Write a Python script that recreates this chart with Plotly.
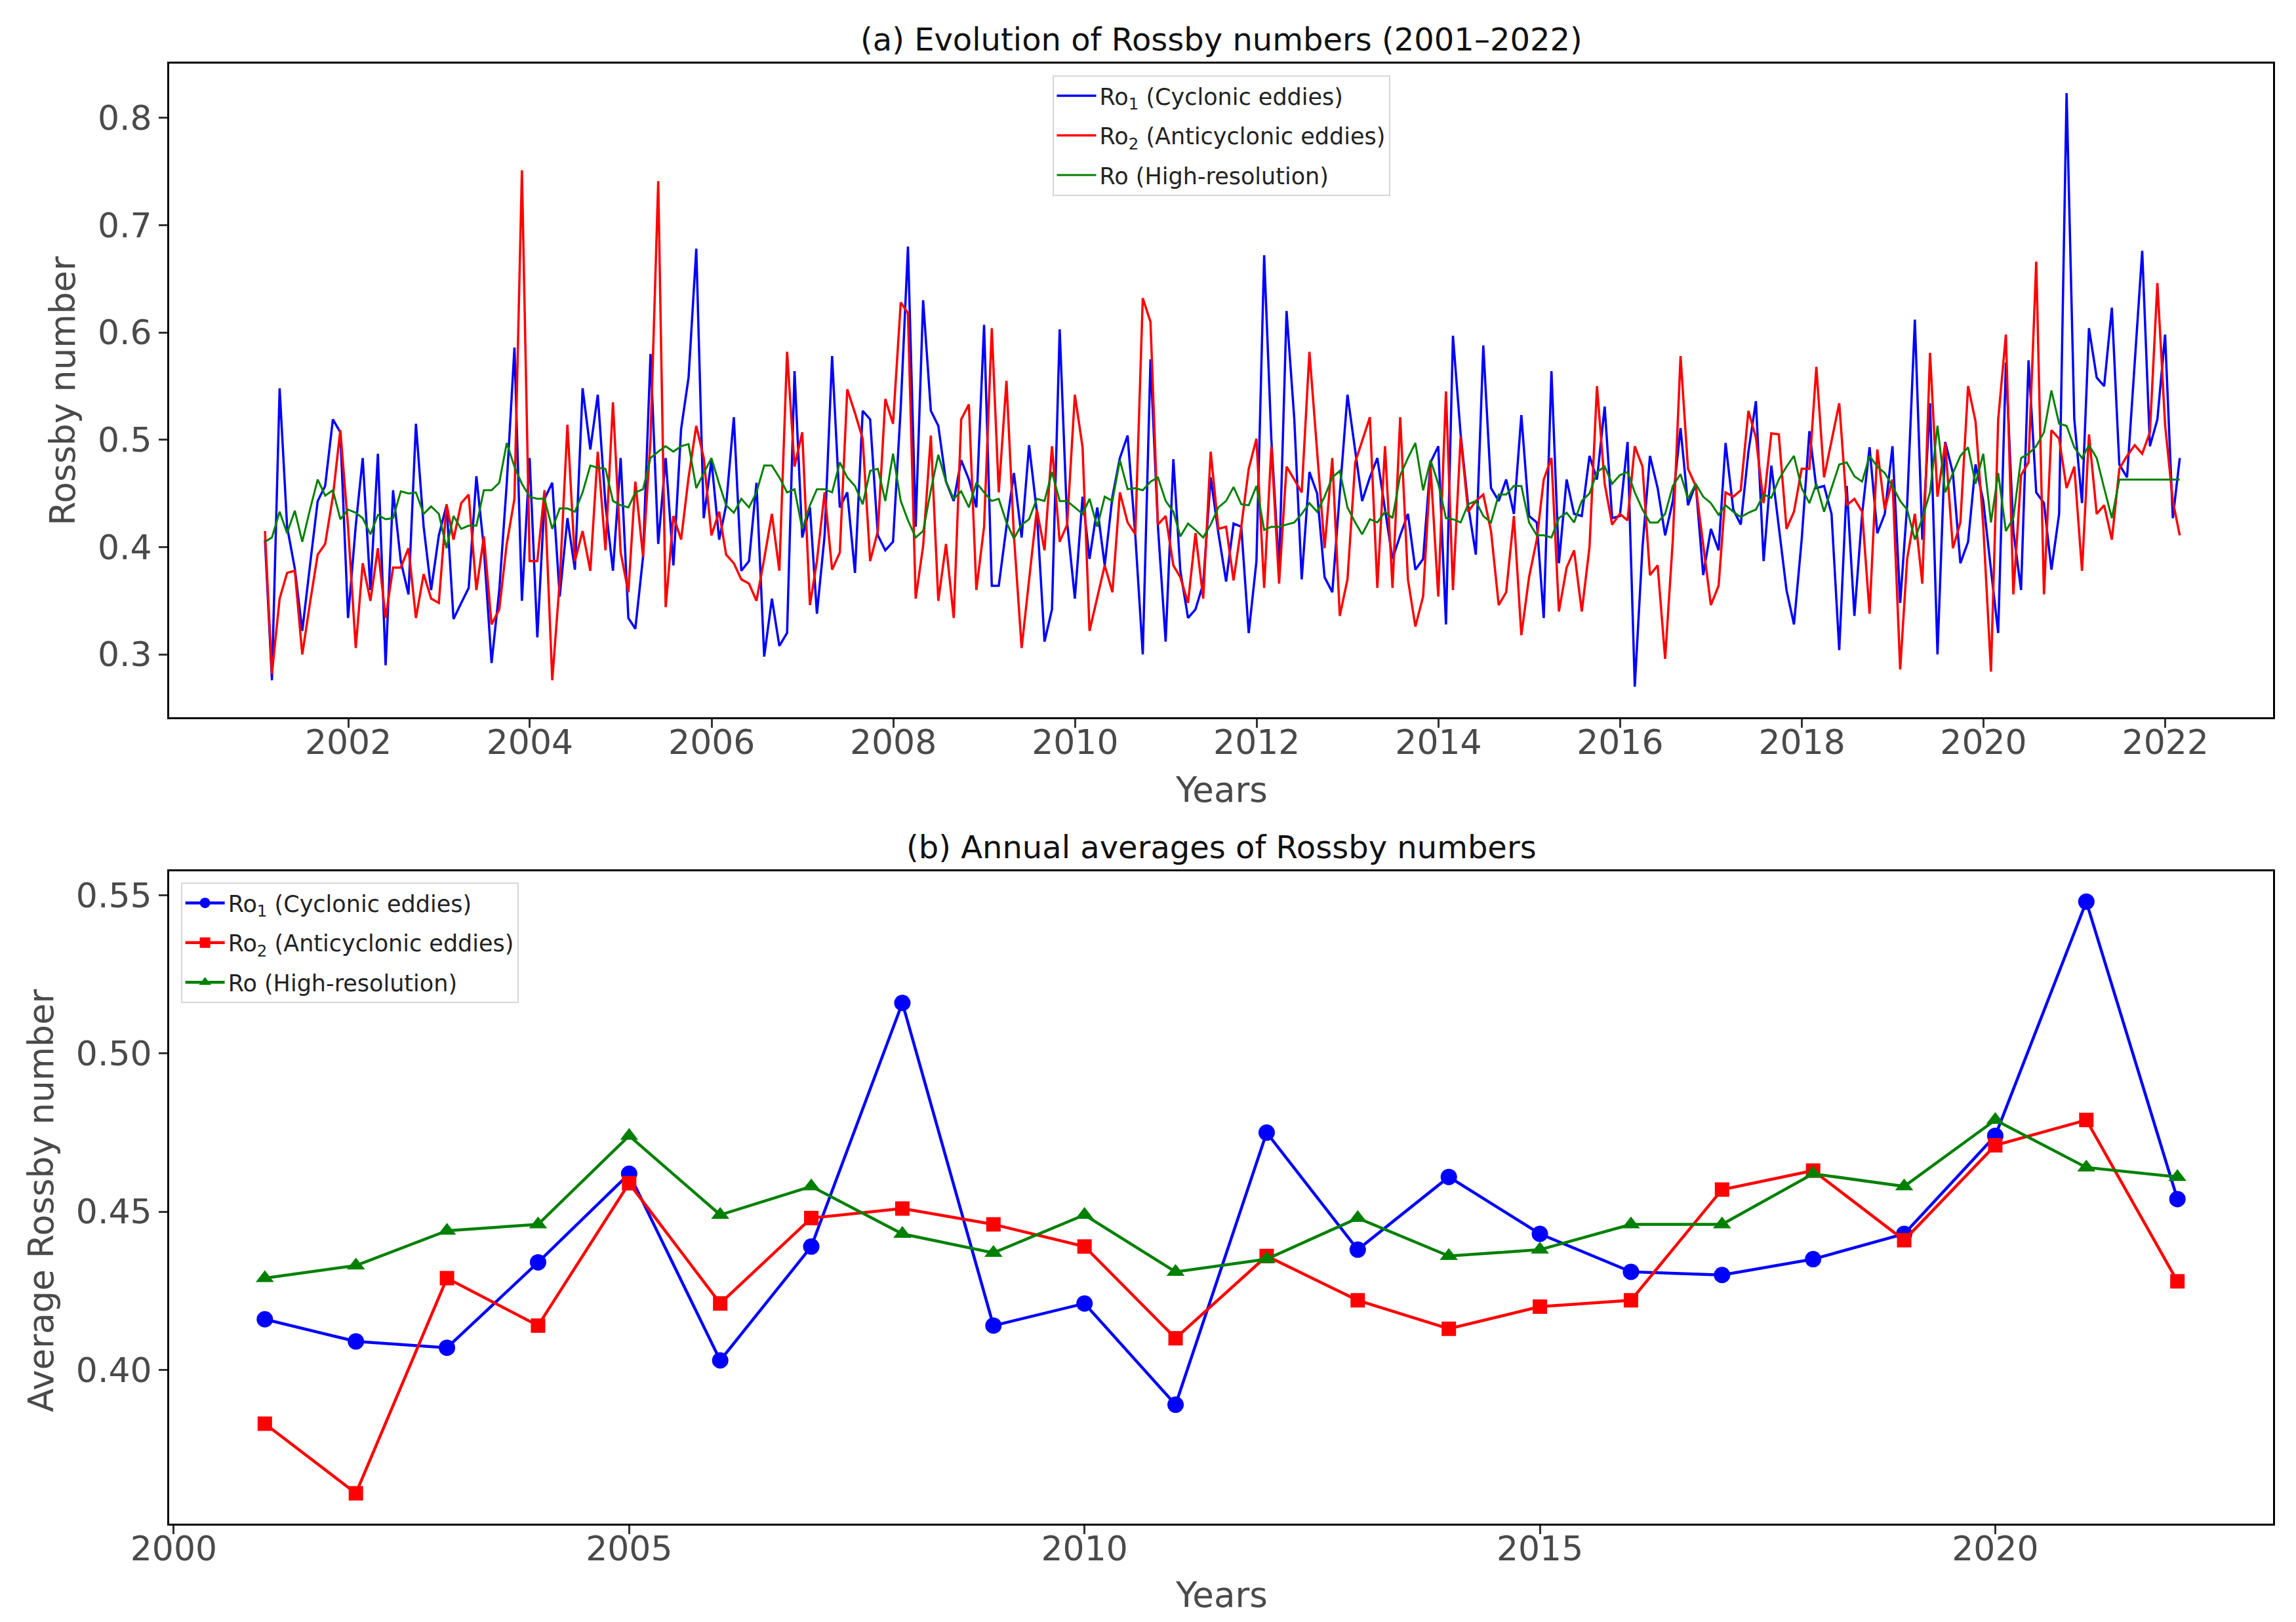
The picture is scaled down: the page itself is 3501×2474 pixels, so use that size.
import calendar
import plotly.graph_objects as go

# ---------------- data ----------------
# Monthly values, Jan 2001 .. Feb 2022 (one row per year)
ro1_monthly = [
    0.407, 0.276, 0.548, 0.419, 0.380, 0.322, 0.383, 0.443, 0.457, 0.519, 0.507, 0.334,  # 2001
    0.420, 0.483, 0.360, 0.487, 0.290, 0.453, 0.387, 0.356, 0.515, 0.419, 0.360, 0.411,  # 2002
    0.439, 0.333, 0.348, 0.362, 0.466, 0.399, 0.292, 0.360, 0.459, 0.586, 0.350, 0.483,  # 2003
    0.316, 0.445, 0.460, 0.354, 0.427, 0.379, 0.548, 0.491, 0.542, 0.439, 0.378, 0.483,  # 2004
    0.334, 0.324, 0.391, 0.580, 0.403, 0.483, 0.383, 0.510, 0.558, 0.678, 0.427, 0.481,  # 2005
    0.407, 0.439, 0.521, 0.378, 0.387, 0.460, 0.298, 0.352, 0.308, 0.320, 0.564, 0.409,  # 2006
    0.437, 0.338, 0.411, 0.578, 0.437, 0.451, 0.376, 0.527, 0.519, 0.411, 0.397, 0.405,  # 2007
    0.530, 0.680, 0.419, 0.630, 0.527, 0.513, 0.461, 0.443, 0.481, 0.463, 0.437, 0.607,  # 2008
    0.364, 0.364, 0.419, 0.469, 0.409, 0.495, 0.433, 0.312, 0.342, 0.603, 0.423, 0.352,  # 2009
    0.447, 0.389, 0.437, 0.383, 0.447, 0.483, 0.504, 0.411, 0.300, 0.575, 0.419, 0.312,  # 2010
    0.482, 0.378, 0.334, 0.342, 0.366, 0.465, 0.413, 0.368, 0.422, 0.419, 0.320, 0.387,  # 2011
    0.672, 0.500, 0.379, 0.620, 0.520, 0.370, 0.470, 0.450, 0.372, 0.358, 0.450, 0.542,  # 2012
    0.490, 0.443, 0.465, 0.483, 0.435, 0.389, 0.411, 0.431, 0.379, 0.389, 0.479, 0.494,  # 2013
    0.328, 0.597, 0.505, 0.439, 0.393, 0.588, 0.455, 0.443, 0.463, 0.431, 0.523, 0.429,  # 2014
    0.423, 0.334, 0.564, 0.385, 0.463, 0.431, 0.429, 0.485, 0.463, 0.531, 0.427, 0.429,  # 2015
    0.498, 0.270, 0.400, 0.485, 0.455, 0.411, 0.443, 0.511, 0.439, 0.459, 0.374, 0.417,  # 2016
    0.397, 0.497, 0.435, 0.421, 0.489, 0.536, 0.387, 0.476, 0.419, 0.360, 0.328, 0.407,  # 2017
    0.508, 0.455, 0.457, 0.431, 0.304, 0.457, 0.336, 0.431, 0.493, 0.413, 0.431, 0.494,  # 2018
    0.348, 0.439, 0.612, 0.407, 0.534, 0.300, 0.498, 0.469, 0.385, 0.405, 0.477, 0.443,  # 2019
    0.379, 0.320, 0.572, 0.415, 0.360, 0.574, 0.451, 0.441, 0.379, 0.431, 0.823, 0.519,  # 2020
    0.441, 0.604, 0.558, 0.550, 0.623, 0.477, 0.465, 0.570, 0.676, 0.494, 0.519, 0.598,  # 2021
    0.427, 0.483,                                                                        # 2022
]

ro2_monthly = [
    0.415, 0.282, 0.352, 0.376, 0.378, 0.300, 0.348, 0.393, 0.403, 0.447, 0.509, 0.419,  # 2001
    0.306, 0.385, 0.350, 0.399, 0.334, 0.381, 0.381, 0.399, 0.334, 0.375, 0.352, 0.348,  # 2002
    0.440, 0.407, 0.441, 0.449, 0.360, 0.410, 0.328, 0.342, 0.403, 0.445, 0.751, 0.387,  # 2003
    0.387, 0.453, 0.276, 0.368, 0.514, 0.387, 0.415, 0.378, 0.489, 0.397, 0.535, 0.395,  # 2004
    0.358, 0.461, 0.391, 0.500, 0.741, 0.344, 0.429, 0.407, 0.465, 0.513, 0.483, 0.411,  # 2005
    0.433, 0.393, 0.385, 0.370, 0.366, 0.350, 0.389, 0.431, 0.378, 0.582, 0.475, 0.507,  # 2006
    0.346, 0.387, 0.451, 0.379, 0.395, 0.547, 0.525, 0.501, 0.387, 0.415, 0.538, 0.515,  # 2007
    0.628, 0.618, 0.352, 0.401, 0.504, 0.350, 0.403, 0.334, 0.519, 0.533, 0.360, 0.419,  # 2008
    0.604, 0.451, 0.555, 0.411, 0.306, 0.370, 0.435, 0.397, 0.494, 0.405, 0.421, 0.542,  # 2009
    0.493, 0.322, 0.352, 0.383, 0.358, 0.451, 0.423, 0.412, 0.632, 0.610, 0.421, 0.429,  # 2010
    0.383, 0.372, 0.348, 0.413, 0.352, 0.489, 0.417, 0.419, 0.369, 0.419, 0.473, 0.501,  # 2011
    0.362, 0.494, 0.366, 0.475, 0.463, 0.451, 0.582, 0.490, 0.399, 0.483, 0.336, 0.370,  # 2012
    0.479, 0.499, 0.521, 0.362, 0.494, 0.362, 0.521, 0.370, 0.326, 0.354, 0.475, 0.354,  # 2013
    0.545, 0.360, 0.503, 0.433, 0.443, 0.449, 0.415, 0.346, 0.358, 0.429, 0.318, 0.372,  # 2014
    0.407, 0.463, 0.483, 0.340, 0.381, 0.397, 0.340, 0.400, 0.550, 0.459, 0.421, 0.431,  # 2015
    0.425, 0.494, 0.475, 0.374, 0.383, 0.296, 0.407, 0.578, 0.473, 0.457, 0.403, 0.346,  # 2016
    0.364, 0.451, 0.447, 0.453, 0.527, 0.502, 0.441, 0.506, 0.505, 0.417, 0.433, 0.473,  # 2017
    0.473, 0.568, 0.465, 0.498, 0.534, 0.439, 0.445, 0.433, 0.338, 0.491, 0.435, 0.463,  # 2018
    0.286, 0.389, 0.431, 0.366, 0.581, 0.447, 0.497, 0.399, 0.423, 0.550, 0.517, 0.420,  # 2019
    0.284, 0.519, 0.598, 0.356, 0.467, 0.479, 0.666, 0.356, 0.509, 0.501, 0.455, 0.475,  # 2020
    0.378, 0.505, 0.431, 0.439, 0.407, 0.473, 0.485, 0.495, 0.487, 0.507, 0.646, 0.514,  # 2021
    0.443, 0.411,                                                                        # 2022
]

ro_monthly = [
    0.405, 0.409, 0.433, 0.413, 0.434, 0.405, 0.435, 0.463, 0.448, 0.453, 0.426, 0.435,  # 2001
    0.432, 0.427, 0.412, 0.430, 0.426, 0.427, 0.452, 0.450, 0.451, 0.431, 0.438, 0.431,  # 2002
    0.399, 0.429, 0.417, 0.420, 0.420, 0.453, 0.453, 0.460, 0.497, 0.475, 0.459, 0.447,  # 2003
    0.445, 0.445, 0.417, 0.436, 0.436, 0.433, 0.451, 0.476, 0.474, 0.473, 0.443, 0.439,  # 2004
    0.437, 0.451, 0.454, 0.483, 0.489, 0.494, 0.489, 0.494, 0.496, 0.455, 0.469, 0.483,  # 2005
    0.459, 0.439, 0.432, 0.445, 0.437, 0.451, 0.476, 0.476, 0.465, 0.451, 0.454, 0.417,  # 2006
    0.439, 0.454, 0.454, 0.451, 0.479, 0.465, 0.457, 0.440, 0.471, 0.473, 0.443, 0.487,  # 2007
    0.443, 0.425, 0.409, 0.415, 0.453, 0.486, 0.461, 0.445, 0.452, 0.437, 0.460, 0.451,  # 2008
    0.443, 0.445, 0.423, 0.408, 0.421, 0.426, 0.445, 0.443, 0.470, 0.443, 0.443, 0.437,  # 2009
    0.431, 0.445, 0.419, 0.447, 0.443, 0.481, 0.454, 0.455, 0.453, 0.461, 0.465, 0.443,  # 2010
    0.433, 0.410, 0.422, 0.416, 0.409, 0.421, 0.437, 0.443, 0.456, 0.440, 0.439, 0.457,  # 2011
    0.416, 0.419, 0.419, 0.421, 0.423, 0.431, 0.441, 0.433, 0.447, 0.465, 0.471, 0.437,  # 2012
    0.423, 0.412, 0.426, 0.423, 0.433, 0.427, 0.467, 0.483, 0.497, 0.453, 0.481, 0.459,  # 2013
    0.427, 0.426, 0.423, 0.440, 0.443, 0.429, 0.423, 0.449, 0.449, 0.457, 0.457, 0.423,  # 2014
    0.411, 0.411, 0.409, 0.427, 0.432, 0.423, 0.443, 0.450, 0.470, 0.475, 0.459, 0.467,  # 2015
    0.470, 0.451, 0.435, 0.423, 0.423, 0.431, 0.457, 0.468, 0.445, 0.459, 0.447, 0.441,  # 2016
    0.430, 0.439, 0.433, 0.428, 0.432, 0.435, 0.449, 0.446, 0.463, 0.475, 0.485, 0.455,  # 2017
    0.441, 0.459, 0.433, 0.455, 0.477, 0.479, 0.466, 0.461, 0.485, 0.475, 0.469, 0.457,  # 2018
    0.443, 0.435, 0.407, 0.427, 0.451, 0.513, 0.451, 0.469, 0.485, 0.493, 0.459, 0.487,  # 2019
    0.423, 0.469, 0.415, 0.427, 0.483, 0.487, 0.494, 0.507, 0.546, 0.515, 0.513, 0.493,  # 2020
    0.483, 0.495, 0.483, 0.455, 0.427, 0.463, 0.463, 0.463, 0.463, 0.463, 0.463, 0.463,  # 2021
    0.463, 0.463,                                                                        # 2022
]

# Annual averages
years = [2001, 2002, 2003, 2004, 2005, 2006, 2007, 2008, 2009, 2010, 2011,
         2012, 2013, 2014, 2015, 2016, 2017, 2018, 2019, 2020, 2021, 2022]
ro1_annual = [0.416, 0.409, 0.407, 0.434, 0.462, 0.403, 0.439, 0.516, 0.414, 0.421, 0.389,
              0.475, 0.438, 0.461, 0.443, 0.431, 0.430, 0.435, 0.443, 0.474, 0.548, 0.454]
ro2_annual = [0.383, 0.361, 0.429, 0.414, 0.459, 0.421, 0.448, 0.451, 0.446, 0.439, 0.410,
              0.436, 0.422, 0.413, 0.420, 0.422, 0.457, 0.463, 0.441, 0.471, 0.479, 0.428]
ro_annual = [0.429, 0.433, 0.444, 0.446, 0.474, 0.449, 0.458, 0.443, 0.437, 0.449, 0.431,
             0.435, 0.448, 0.436, 0.438, 0.446, 0.446, 0.462, 0.458, 0.479, 0.464, 0.461]

top_ticks = ["2002", "2004", "2006", "2008", "2010", "2012", "2014", "2016", "2018", "2020", "2022"]

# month-end dates Jan 2001 .. Feb 2022
dates = []
for y in range(2001, 2023):
    for m in range(1, 13):
        if len(dates) >= len(ro1_monthly):
            break
        d = calendar.monthrange(y, m)[1]
        dates.append(f"{y}-{m:02d}-{d:02d}")

# ---------------- figure ----------------
FONT = "DejaVu Sans"
TICK_COLOR = "#4a4a4a"
names = ["Ro<sub>1</sub> (Cyclonic eddies)",
         "Ro<sub>2</sub> (Anticyclonic eddies)",
         "Ro (High-resolution)"]
colors = ["#0000ff", "#ff0000", "#008000"]

fig = go.Figure()

for i, (vals, w) in enumerate([(ro1_monthly, 3.5), (ro2_monthly, 3.5), (ro_monthly, 3.0)]):
    fig.add_trace(go.Scatter(
        x=dates, y=vals, mode="lines", name=names[i],
        line=dict(color=colors[i], width=w),
        xaxis="x", yaxis="y", legend="legend", legendgroup=f"a{i}",
    ))

symbols = ["circle", "square", "triangle-up"]
msizes = [25, 22, 24]
for i, vals in enumerate([ro1_annual, ro2_annual, ro_annual]):
    fig.add_trace(go.Scatter(
        x=years, y=vals, mode="lines+markers", name=names[i],
        line=dict(color=colors[i], width=4.5),
        marker=dict(color=colors[i], symbol=symbols[i], size=msizes[i]),
        xaxis="x2", yaxis="y2", legend="legend2", legendgroup=f"b{i}",
    ))

axis_common = dict(
    showline=True, linecolor="black", linewidth=3, mirror=True,
    ticks="outside", ticklen=13, tickwidth=2.5, tickcolor="#333333",
    showgrid=False, zeroline=False,
    tickfont=dict(family=FONT, size=52, color=TICK_COLOR),
)

fig.update_layout(
    width=3501, height=2474,
    margin=dict(l=250, r=43, t=89, b=158),
    paper_bgcolor="white", plot_bgcolor="white",
    font=dict(family=FONT, color=TICK_COLOR),
    xaxis=dict(domain=[0, 1], anchor="y", type="date",
               range=["2000-01-12", "2023-03-10"],
               tickmode="array",
               tickvals=[f"{t}-01-01" for t in top_ticks],
               ticktext=top_ticks, ticklabelstandoff=-22,
               **axis_common),
    yaxis=dict(domain=[0.5523, 1.0], anchor="x",
               range=[0.2415, 0.8505], tickmode="linear", tick0=0.3, dtick=0.1,
               tickformat=".1f", **axis_common),
    xaxis2=dict(domain=[0, 1], anchor="y2",
                range=[1999.95, 2023.05], tickmode="linear", tick0=2000, dtick=5,
                ticklabelstandoff=-22,
                **axis_common),
    yaxis2=dict(domain=[0.0, 0.4468], anchor="x2",
                range=[0.3514, 0.5576], tickmode="linear", tick0=0.40, dtick=0.05,
                tickformat=".2f", **axis_common),
    legend=dict(x=0.5, xanchor="center", y=0.992, yanchor="top",
                bgcolor="rgba(255,255,255,0.85)", bordercolor="#d6d6d6", borderwidth=2,
                font=dict(family=FONT, size=35, color="#222222"),
                tracegroupgap=12, traceorder="grouped", itemwidth=60),
    legend2=dict(x=0.0055, xanchor="left", y=0.4392, yanchor="top",
                 bgcolor="rgba(255,255,255,0.85)", bordercolor="#d6d6d6", borderwidth=2,
                 font=dict(family=FONT, size=35, color="#222222"),
                 tracegroupgap=12, traceorder="grouped", itemwidth=60),
    showlegend=True,
)

annotations = [
    dict(text="(a) Evolution of Rossby numbers (2001\u20132022)", x=0.5, y=1.0166,
         font=dict(family=FONT, size=48, color="#111111")),
    dict(text="(b) Annual averages of Rossby numbers", x=0.5, y=0.4634,
         font=dict(family=FONT, size=48, color="#111111")),
    dict(text="Years", x=0.5, y=0.5025,
         font=dict(family=FONT, size=53, color=TICK_COLOR)),
    dict(text="Years", x=0.5, y=-0.0489,
         font=dict(family=FONT, size=53, color=TICK_COLOR)),
    dict(text="Rossby number", x=-0.0505, y=0.776, textangle=-90,
         font=dict(family=FONT, size=53, color=TICK_COLOR)),
    dict(text="Average Rossby number", x=-0.0608, y=0.2214, textangle=-90,
         font=dict(family=FONT, size=53, color=TICK_COLOR)),
]
for a in annotations:
    a.update(xref="paper", yref="paper", showarrow=False,
             xanchor="center", yanchor="middle")
fig.update_layout(annotations=annotations)

fig.write_html("out.html")
